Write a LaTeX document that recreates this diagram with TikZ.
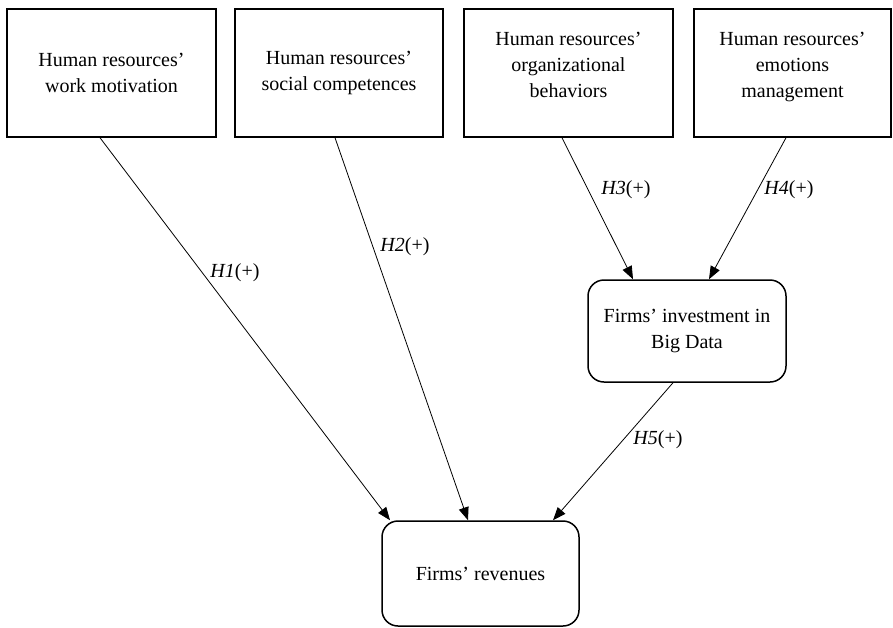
\documentclass[tikz,border=0pt]{standalone}
\usepackage{fontspec}
\setmainfont{Liberation Serif}
\usetikzlibrary{arrows.meta,calc}
\newcommand{\uptext}[1]{\raisebox{2pt}[0pt][0pt]{\begin{tabular}{@{}c@{}}#1\end{tabular}}}
\begin{document}
\begin{tikzpicture}[x=1pt,y=-1pt,
  box/.style={draw, line width=1.5pt, minimum height=128pt, align=center,
    font=\fontsize{20}{26}\selectfont, inner sep=0pt},
  rbox/.style={draw, line width=1.5pt, rounded corners=16pt, align=center,
    font=\fontsize{20}{26}\selectfont, inner sep=0pt},
  arr/.style={line width=0.8pt, -{Triangle[length=13pt,width=10pt]}},
  lab/.style={font=\fontsize{20}{24}\selectfont, inner sep=0pt}]
\useasboundingbox (0,0) rectangle (893,627);

\node[box, minimum width=209pt] (b1) at (111.5,73) {Human resources’\\work motivation};
\node[box, minimum width=208pt] (b2) at (339,73) {Human resources’\\social competences};
\node[box, minimum width=209pt] (b3) at (568.5,73) {\uptext{Human resources’\\organizational\\behaviors}};
\node[box, minimum width=197pt] (b4) at (792.5,73) {\uptext{Human resources’\\emotions\\management}};

\node[rbox, minimum width=198pt, minimum height=102pt] (inv) at (687,331) {Firms’ investment in\\Big Data};
\node[rbox, minimum width=197pt, minimum height=105pt] (rev) at (480.5,573.5) {Firms’ revenues};

\draw[arr] ($(b1.south)+(-11.5,0)$) -- ($(rev.north)+(-90.5,0)$);
\draw[arr] ($(b2.south)+(-4,0)$) -- ($(rev.north)+(-12.5,0)$);
\draw[arr] ($(b3.south)+(-6.5,0)$) -- ($(inv.north)+(-54,0)$);
\draw[arr] ($(b4.south)+(-6.5,0)$) -- ($(inv.north)+(22,0)$);
\draw[arr] ($(inv.south)+(-14,0)$) -- ($(rev.north)+(72.5,0)$);

\node[lab] (l1) at (235,273) {\textit{H1}(+)};
\node[lab] (l2) at (405,247) {\textit{H2}(+)};
\node[lab] (l3) at (626,190) {\textit{H3}(+)};
\node[lab] (l4) at (789,190) {\textit{H4}(+)};
\node[lab] (l5) at (658,440) {\textit{H5}(+)};
\end{tikzpicture}
\end{document}
